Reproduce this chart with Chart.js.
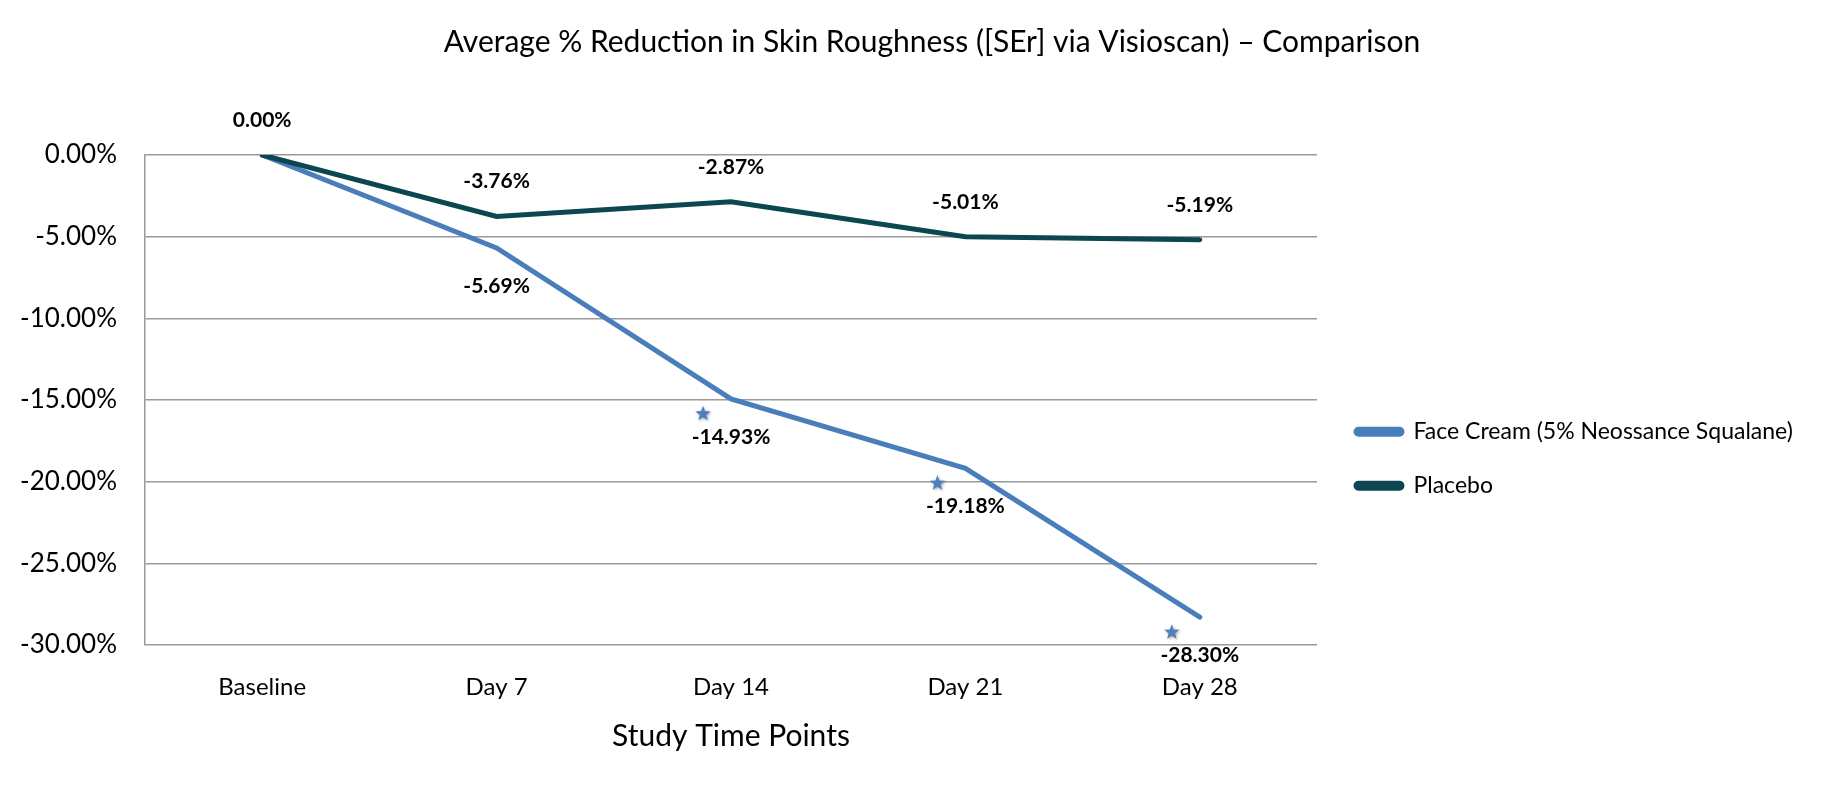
<!DOCTYPE html>
<html>
<head>
<meta charset="utf-8">
<script src="https://cdn.jsdelivr.net/npm/chart.js@4/dist/chart.umd.min.js"></script>
<style>
  html, body { margin: 0; padding: 0; background: #fff; }
</style>
</head>
<body>
<canvas id="chart" width="1846" height="791"></canvas>
<script>
const timePoints = ['Baseline', 'Day 7', 'Day 14', 'Day 21', 'Day 28'];
const faceCream = [0, -5.69, -14.93, -19.18, -28.30];
const placebo = [0, -3.76, -2.87, -5.01, -5.19];
const significant = [false, false, true, true, true];
const yTicks = [0, -5, -10, -15, -20, -25, -30];

const BLUE = '#4a7ebb';
const TEAL = '#0b4651';

Chart.defaults.font.family = 'Lato';
Chart.defaults.color = '#000';

// value labels: placebo above the line, face cream below
const pointLabels = {
  id: 'pointLabels',
  afterDatasetsDraw(chart) {
    const ctx = chart.ctx;
    ctx.save();
    ctx.font = 'bold 21px Lato';
    ctx.fillStyle = '#000';
    ctx.textAlign = 'center';
    ctx.textBaseline = 'middle';
    chart.data.datasets.forEach((ds, i) => {
      const meta = chart.getDatasetMeta(i);
      meta.data.forEach((pt, j) => {
        if (ds.hideLabel && ds.hideLabel[j]) return;
        ctx.fillText(ds.data[j].toFixed(2) + '%', pt.x, pt.y + ds.labelOffset);
      });
    });
    ctx.restore();
  }
};

// significance stars next to the face cream points
const starMarks = {
  id: 'starMarks',
  afterDatasetsDraw(chart) {
    const meta = chart.getDatasetMeta(0);
    const ctx = chart.ctx;
    ctx.save();
    ctx.fillStyle = '#4f81bd';
    ctx.shadowColor = 'rgba(0,0,0,0.35)';
    ctx.shadowBlur = 3;
    ctx.shadowOffsetX = 1;
    ctx.shadowOffsetY = 1;
    meta.data.forEach((pt, i) => {
      if (!significant[i]) return;
      const cx = pt.x - 28, cy = pt.y + 15;
      ctx.beginPath();
      for (let k = 0; k < 10; k++) {
        const r = k % 2 === 0 ? 8 : 3.4;
        const a = -Math.PI / 2 + k * Math.PI / 5;
        ctx.lineTo(cx + r * Math.cos(a), cy + r * Math.sin(a));
      }
      ctx.closePath();
      ctx.fill();
    });
    ctx.restore();
  }
};

// legend gets the whole right margin (long label), title centred on the page
const layoutFix = {
  id: 'layoutFix',
  afterLayout(chart) {
    const lg = chart.legend;
    lg.left += 8;
    lg.right = chart.width;
    lg.width = lg.right - lg.left;
    const t = chart.titleBlock;
    t.left = 18;
    t.right = chart.width;
    t.width = t.right - t.left;
  }
};

new Chart(document.getElementById('chart'), {
  type: 'line',
  data: {
    labels: timePoints,
    datasets: [
      {
        label: 'Face Cream (5% Neossance Squalane)',
        data: faceCream,
        borderColor: BLUE,
        backgroundColor: BLUE,
        borderWidth: 5,
        borderCapStyle: 'round',
        pointRadius: 0,
        tension: 0,
        order: 1,
        labelOffset: 38,
        hideLabel: [true, false, false, false, false]
      },
      {
        label: 'Placebo',
        data: placebo,
        borderColor: TEAL,
        backgroundColor: TEAL,
        borderWidth: 5,
        borderCapStyle: 'round',
        pointRadius: 0,
        tension: 0,
        order: 0,
        labelOffset: -35
      }
    ]
  },
  options: {
    responsive: false,
    animation: false,
    layout: { padding: { left: 20, right: 129, top: 0, bottom: 37 } },
    plugins: {
      title: {
        display: true,
        text: 'Average % Reduction in Skin Roughness ([SEr] via Visioscan) – Comparison',
        font: { size: 30, weight: 'normal' },
        color: '#000',
        padding: { top: 24, bottom: 95 }
      },
      legend: {
        position: 'right',
        fullSize: false,
        maxWidth: 400,
        title: { display: true, text: ' ', font: { size: 12 }, padding: { top: 103, bottom: 0 } },
        labels: {
          boxWidth: 46,
          boxHeight: 5,
          padding: 31,
          useBorderRadius: true,
          borderRadius: 2.5,
          font: { size: 23 },
          color: '#000',
          sort: (a, b) => a.datasetIndex - b.datasetIndex
        }
      },
      tooltip: { enabled: false }
    },
    scales: {
      x: {
        offset: true,
        grid: { display: false, drawTicks: false },
        border: { display: false },
        afterFit: (scale) => { scale.height = 109; },
        ticks: { font: { size: 24 }, color: '#000', padding: 28 },
        title: {
          display: true,
          text: 'Study Time Points',
          font: { size: 30 },
          color: '#000',
          padding: { top: 10, bottom: 0 }
        }
      },
      y: {
        min: -30,
        max: 0,
        afterBuildTicks: (scale) => { scale.ticks = yTicks.map(v => ({ value: v })); },
        afterFit: (scale) => { scale.width = 125; },
        grid: { color: '#9a9a9a', lineWidth: 1.5, drawTicks: false },
        border: { display: true, color: '#9a9a9a', width: 1.5 },
        ticks: {
          font: { size: 26 },
          color: '#000',
          padding: 28,
          callback: (v) => v.toFixed(2) + '%'
        }
      }
    }
  },
  plugins: [pointLabels, starMarks, layoutFix]
});
</script>
</body>
</html>
